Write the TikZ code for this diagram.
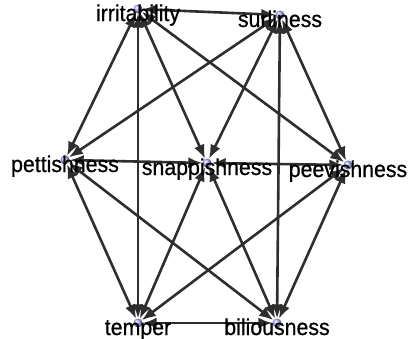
\documentclass[tikz,border=0pt]{standalone}
\usepackage{fontspec}
\setmainfont[FakeBold=0.7,FakeStretch=0.93]{Liberation Sans}
\usetikzlibrary{arrows.meta,backgrounds}
\definecolor{edgegray}{HTML}{2E2E2E}
\tikzset{
  vtx/.style={circle, inner sep=0pt, minimum size=9bp, shading=ball, ball color=blue!30!white},
  lbl/.style={anchor=base, inner sep=0pt, font=\fontsize{23}{23}\selectfont},
  syn/.style={draw=edgegray, line width=2.6bp,
    {Latex[length=14bp,width=11bp]}-{Latex[length=14bp,width=11bp]}},
}
\begin{document}
\begin{tikzpicture}[x=1bp, y=-1bp]
  \useasboundingbox (0,0) rectangle (412,339);

  % word vertices
  \node[vtx] (irr) at (138,9) {};
  \node[vtx] (sur) at (280,15) {};
  \node[vtx] (pet) at (65,160) {};
  \node[vtx] (sna) at (207,163) {};
  \node[vtx] (pee) at (348,165) {};
  \node[vtx] (tem) at (138,323) {};
  \node[vtx] (bil) at (277,323) {};

  % synonym links
  \begin{pgfonlayer}{background}
    \foreach \a/\b in {irr/sur, irr/pet, irr/tem, irr/sna, irr/pee,
                       sur/pet, sur/sna, sur/bil, sur/pee,
                       pet/sna, pet/tem, pet/bil,
                       sna/pee, sna/tem, sna/bil,
                       pee/tem, pee/bil, tem/bil}
      \draw[syn] (\a) -- (\b);
  \end{pgfonlayer}

  % labels
  \node[lbl] (irrl) at ([yshift=-12bp]irr.center) {irritability};
  \node[lbl] (surl) at ([yshift=-12bp]sur.center) {surliness};
  \node[lbl] (petl) at ([yshift=-12bp]pet.center) {pettishness};
  \node[lbl] (snal) at ([yshift=-12bp]sna.center) {snappishness};
  \node[lbl] (peel) at ([yshift=-12bp]pee.center) {peevishness};
  \node[lbl] (teml) at ([yshift=-12bp]tem.center) {temper};
  \node[lbl] (bill) at ([yshift=-12bp]bil.center) {biliousness};
\end{tikzpicture}
\end{document}
